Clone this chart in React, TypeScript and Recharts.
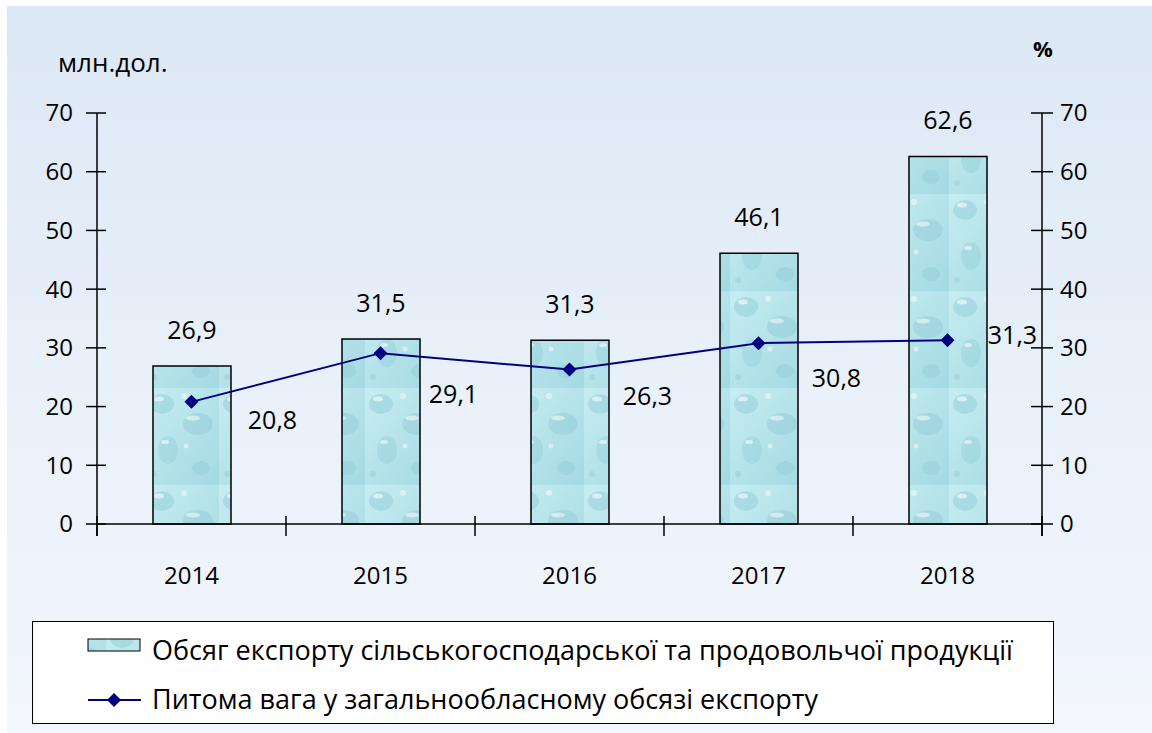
import React from 'react';
import {
  ComposedChart,
  Bar,
  Line,
  XAxis,
  YAxis,
  LabelList
} from 'recharts';

// ---- data ----
const years = ['2014', '2015', '2016', '2017', '2018'];
const exportVolume = [26.9, 31.5, 31.3, 46.1, 62.6];
const exportShare = [20.8, 29.1, 26.3, 30.8, 31.3];
const axisTicks = [0, 10, 20, 30, 40, 50, 60, 70];

const barName = 'Обсяг експорту сільськогосподарської та продовольчої продукції';
const lineName = 'Питома вага у загальнообласному обсязі експорту';

// manual placement of the share labels (as in the original)
const shareLabelShift = [
  { dx: 81, dy: 18 },
  { dx: 73, dy: 41 },
  { dx: 78, dy: 27 },
  { dx: 78, dy: 35 },
  { dx: 65, dy: -5 }
];

const chartData = years.map((year, i) => ({
  year,
  volume: exportVolume[i],
  share: exportShare[i]
}));

const W = 1152;
const H = 733;
const PLOT_LEFT = 97;
const PLOT_RIGHT = 1042;
const HALF_BAND = (PLOT_RIGHT - PLOT_LEFT) / years.length / 2;
const FONT = '"Open Sans", "Noto Sans", sans-serif';
const NAVY = '#000080';

const fmt = (v: number) => v.toFixed(1).replace('.', ',');

const LeftTick = ({ x, y, payload }: any) => (
  <g>
    <line x1={x - 11} x2={x + 9} y1={y} y2={y} stroke="#000" strokeWidth={1.5} />
    {payload.value === 0 && <line x1={x} x2={x} y1={y} y2={y + 12} stroke="#000" strokeWidth={1.5} />}
    <text x={x - 24} y={y} dy="0.35em" textAnchor="end" fontSize={24} fontFamily={FONT} fill="#000">
      {payload.value}
    </text>
  </g>
);

const RightTick = ({ x, y, payload }: any) => (
  <g>
    <line x1={x - 11} x2={x + 11} y1={y} y2={y} stroke="#000" strokeWidth={1.5} />
    {payload.value === 0 && <line x1={x} x2={x} y1={y} y2={y + 12} stroke="#000" strokeWidth={1.5} />}
    <text x={x + 18} y={y} dy="0.35em" textAnchor="start" fontSize={24} fontFamily={FONT} fill="#000">
      {payload.value}
    </text>
  </g>
);

const YearTick = ({ x, y, payload, index }: any) => (
  <g>
    <line x1={x - HALF_BAND} x2={x - HALF_BAND} y1={y - 8} y2={y + 12} stroke="#000" strokeWidth={1.5} />
    {index === years.length - 1 && (
      <line x1={x + HALF_BAND} x2={x + HALF_BAND} y1={y - 8} y2={y + 12} stroke="#000" strokeWidth={1.5} />
    )}
    <text x={x} y={y + 52} dy="0.35em" textAnchor="middle" fontSize={24} fontFamily={FONT} fill="#000">
      {payload.value}
    </text>
  </g>
);

const Diamond = ({ cx, cy, index }: any) => (
  <polygon
    key={`d-${index}`}
    points={`${cx},${cy - 7} ${cx + 7},${cy} ${cx},${cy + 7} ${cx - 7},${cy}`}
    fill={NAVY}
  />
);

const ShareLabel = ({ x, y, value, index }: any) => {
  const s = shareLabelShift[index];
  return (
    <text x={x + s.dx} y={y + s.dy} dy="0.35em" textAnchor="middle" fontSize={25} fontFamily={FONT} fill="#000">
      {fmt(value)}
    </text>
  );
};

// rough imitation of the "water droplets" fill from the source
const DropsPattern = () => (
  <defs>
    <linearGradient id="dropBase" x1="0" y1="0" x2="1" y2="1">
      <stop offset="0%" stopColor="#c6edf2" />
      <stop offset="100%" stopColor="#a4d9e2" />
    </linearGradient>
    <pattern id="drops" patternUnits="userSpaceOnUse" width={73} height={97}>
      <rect width={73} height={97} fill="url(#dropBase)" />
      <ellipse cx={16} cy={16} rx={12} ry={10} fill="#8fcad7" opacity={0.45} />
      <ellipse cx={13} cy={11} rx={5} ry={2.5} fill="#ffffff" opacity={0.55} />
      <ellipse cx={52} cy={36} rx={15} ry={11} fill="#8bc6d3" opacity={0.4} />
      <ellipse cx={47} cy={30} rx={7} ry={2.5} fill="#ffffff" opacity={0.5} />
      <ellipse cx={22} cy={62} rx={10} ry={14} fill="#91ccd8" opacity={0.42} />
      <ellipse cx={19} cy={54} rx={4} ry={2} fill="#ffffff" opacity={0.55} />
      <ellipse cx={55} cy={80} rx={9} ry={7} fill="#8cc7d4" opacity={0.4} />
      <circle cx={38} cy={8} r={3} fill="#ffffff" opacity={0.45} />
      <circle cx={40} cy={58} r={2.5} fill="#ffffff" opacity={0.45} />
      <circle cx={8} cy={86} r={3} fill="#8cc7d4" opacity={0.4} />
    </pattern>
  </defs>
);

const LegendBox = () => (
  <div
    style={{
      position: 'absolute',
      left: 32,
      top: 621,
      width: 1020,
      height: 101,
      background: '#fff',
      border: '1.5px solid #000',
      fontFamily: FONT,
      fontSize: 27,
      lineHeight: '36px',
      color: '#000'
    }}
  >
    <svg style={{ position: 'absolute', left: 0, top: 0 }} width={1020} height={101}>
      <DropsPattern />
      <rect x={55} y={17} width={52} height={12} fill="url(#drops)" stroke="#000" strokeWidth={1} />
      <line x1={55} x2={108} y1={78} y2={78} stroke={NAVY} strokeWidth={2} />
      <polygon points="81,71 88,78 81,85 74,78" fill={NAVY} />
    </svg>
    <div style={{ position: 'absolute', left: 119, top: 10, whiteSpace: 'nowrap' }}>{barName}</div>
    <div style={{ position: 'absolute', left: 119, top: 59, whiteSpace: 'nowrap' }}>{lineName}</div>
  </div>
);

export default function App() {
  return (
    <div style={{ position: 'absolute', left: 0, top: 0, width: W, height: H, background: '#fff', overflow: 'hidden' }}>
      <div
        style={{
          position: 'absolute',
          left: 7,
          top: 6,
          width: W - 7,
          height: H - 6,
          background: 'linear-gradient(to bottom, #dce8f5 0%, #e8f0f9 50%, #f3f7fc 100%)'
        }}
      />
      <div style={{ position: 'absolute', left: 58, top: 44, fontFamily: FONT, fontSize: 26, lineHeight: '36px' }}>млн.дол.</div>
      <div style={{ position: 'absolute', left: 1033, top: 33, fontFamily: FONT, fontSize: 22, fontWeight: 'bold' }}>%</div>

      <div style={{ position: 'absolute', left: 0, top: 0 }}>
        <ComposedChart
          width={W}
          height={H}
          data={chartData}
          margin={{ top: 113, right: 50, left: 37, bottom: 179 }}
        >
          <DropsPattern />
          <XAxis
            dataKey="year"
            height={30}
            tickSize={0}
            tickMargin={0}
            tickLine={false}
            axisLine={{ stroke: '#000', strokeWidth: 1.5 }}
            tick={<YearTick />}
            interval={0}
          />
          <YAxis
            yAxisId="left"
            width={60}
            domain={[0, 70]}
            ticks={axisTicks}
            tickSize={0}
            tickMargin={0}
            tickLine={false}
            axisLine={{ stroke: '#000', strokeWidth: 1.5 }}
            tick={<LeftTick />}
            interval={0}
          />
          <YAxis
            yAxisId="right"
            orientation="right"
            width={60}
            domain={[0, 70]}
            ticks={axisTicks}
            tickSize={0}
            tickMargin={0}
            tickLine={false}
            axisLine={{ stroke: '#000', strokeWidth: 1.5 }}
            tick={<RightTick />}
            interval={0}
          />
          <Bar
            yAxisId="left"
            dataKey="volume"
            name={barName}
            barSize={78}
            fill="url(#drops)"
            stroke="#000"
            strokeWidth={1.5}
            isAnimationActive={false}
          >
            <LabelList
              dataKey="volume"
              position="top"
              offset={27}
              fontSize={25}
              fontFamily={FONT}
              fill="#000"
              formatter={(v: any) => fmt(Number(v))}
            />
          </Bar>
          <Line
            yAxisId="right"
            dataKey="share"
            name={lineName}
            type="linear"
            stroke={NAVY}
            strokeWidth={2}
            dot={<Diamond />}
            activeDot={false}
            isAnimationActive={false}
          >
            <LabelList dataKey="share" content={<ShareLabel />} />
          </Line>
        </ComposedChart>
      </div>

      <LegendBox />
    </div>
  );
}
